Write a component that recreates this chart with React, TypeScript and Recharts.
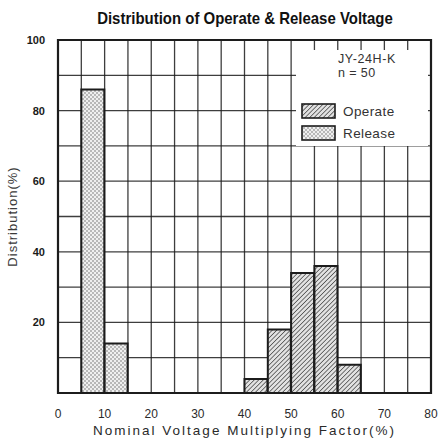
import React from 'react'
import { BarChart, Bar, XAxis, YAxis, CartesianGrid, ReferenceArea } from 'recharts'

// histogram bins, 5% wide, labelled by their lower edge
const binStarts = [0, 5, 10, 15, 20, 25, 30, 35, 40, 45, 50, 55, 60, 65, 70, 75]
const operateValues = [0, 0, 0, 0, 0, 0, 0, 0, 4, 18, 34, 36, 8, 0, 0, 0]
const releaseValues = [0, 86, 14, 0, 0, 0, 0, 0, 0, 0, 0, 0, 0, 0, 0, 0]
const xTicks = [0, 5, 10, 15, 20, 25, 30, 35, 40, 45, 50, 55, 60, 65, 70, 75, 80]
const yTicks = [0, 10, 20, 30, 40, 50, 60, 70, 80, 90, 100]

const BIN = 5

const chartData = binStarts.map((s, i) => ({
  mid: s + BIN / 2,
  operate: operateValues[i],
  release: releaseValues[i],
}))

const INK = '#1c1c1c'
const SANS = '"Liberation Sans", Arial, sans-serif'

const LegendBox = () => (
  <div style={{
    position: 'absolute', left: 296, top: 50, width: 132, height: 96,
    background: '#fff', fontFamily: SANS, color: '#333',
  }}>
    <div style={{ position: 'absolute', left: 42, top: 3, fontSize: 12.5, lineHeight: '12px', letterSpacing: 0.6 }}>JY-24H-K</div>
    <div style={{ position: 'absolute', left: 42, top: 17, fontSize: 12.5, lineHeight: '12px', letterSpacing: 0.4 }}>n = 50</div>
    {[
      { label: 'Operate', fill: 'url(#hatch)', top: 53 },
      { label: 'Release', fill: 'url(#dots)', top: 75 },
    ].map(item => (
      <div key={item.label} style={{ position: 'absolute', left: 5, top: item.top, display: 'flex', alignItems: 'center', gap: 7 }}>
        <svg width={35} height={16} style={{ display: 'block' }}>
          <rect x={1} y={1} width={33} height={14} fill={item.fill} stroke={INK} strokeWidth={1.6} />
        </svg>
        <span style={{ fontSize: 13.5, letterSpacing: 0.4 }}>{item.label}</span>
      </div>
    ))}
  </div>
)

export default function App() {
  return (
    <div style={{ position: 'absolute', left: 0, top: 0, width: 442, height: 440, background: '#fff' }}>
      <BarChart
        width={442}
        height={440}
        data={chartData}
        margin={{ top: 40, right: 11, bottom: 0, left: 0 }}
        barCategoryGap={0}
        barGap={0}
      >
        <defs>
          <pattern id="hatch" width="3.2" height="3.2" patternUnits="userSpaceOnUse" patternTransform="rotate(45)">
            <rect width="3.2" height="3.2" fill="#e2e2e2" />
            <line x1="0" y1="0" x2="0" y2="3.2" stroke="#333" strokeWidth="1.3" />
          </pattern>
          <pattern id="dots" width="4" height="4" patternUnits="userSpaceOnUse">
            <rect width="4" height="4" fill="#efefef" />
            <circle cx="1" cy="1" r="0.75" fill="#666" />
            <circle cx="3" cy="3" r="0.75" fill="#666" />
          </pattern>
        </defs>
        <CartesianGrid stroke={INK} strokeWidth={1.3} strokeOpacity={0.85} />
        <XAxis
          dataKey="mid"
          type="number"
          domain={[0, 80]}
          ticks={xTicks}
          interval={0}
          height={47}
          tickLine={false}
          axisLine={false}
          tickMargin={10}
          tickFormatter={(v: number) => (v % 10 === 0 ? String(v) : '')}
          tick={{ fill: '#2a2a2a', fontSize: 12, fontFamily: SANS }}
          label={{
            value: 'Nominal Voltage Multiplying Factor(%)',
            position: 'insideBottom',
            offset: 5,
            style: { fill: '#2a2a2a', fontSize: 13.5, fontFamily: SANS, letterSpacing: 2 },
          }}
        />
        <YAxis
          type="number"
          domain={[0, 100]}
          ticks={yTicks}
          interval={0}
          width={58}
          tickLine={false}
          axisLine={false}
          tickMargin={7}
          tickFormatter={(v: number) => (v > 0 && v % 20 === 0 ? String(v) : '')}
          tick={{ fill: '#1a1a1a', fontSize: 11, fontWeight: 700, fontFamily: SANS }}
          label={{
            value: 'Distribution(%)',
            angle: -90,
            position: 'insideLeft',
            offset: 12,
            style: { fill: '#3a3a3a', fontSize: 13, fontFamily: SANS, textAnchor: 'middle', letterSpacing: 1 },
          }}
        />
        <Bar dataKey="operate" name="Operate" stackId="h" fill="url(#hatch)" stroke={INK} strokeWidth={2} isAnimationActive={false} />
        <Bar dataKey="release" name="Release" stackId="h" fill="url(#dots)" stroke={INK} strokeWidth={2} isAnimationActive={false} />
        <ReferenceArea x1={0} x2={80} y1={0} y2={100} fill="none" stroke={INK} strokeWidth={2.2} ifOverflow="visible" />
      </BarChart>
      <div style={{
        position: 'absolute', left: 0, width: 442, top: 9, textAlign: 'center',
        fontFamily: SANS, fontWeight: 700, fontSize: 17, color: '#111',
      }}>
        <span style={{ display: 'inline-block', transform: 'translateX(24px) scaleX(0.88)', transformOrigin: 'center' }}>
          Distribution of Operate &amp; Release Voltage
        </span>
      </div>
      <LegendBox />
    </div>
  )
}
